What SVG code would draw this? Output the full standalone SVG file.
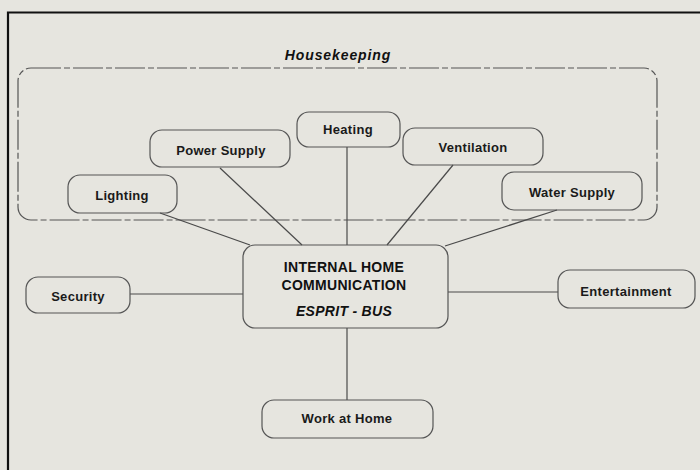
<svg xmlns="http://www.w3.org/2000/svg" width="700" height="470" viewBox="0 0 700 470">
  <style>
    .node rect { fill: none; stroke: #555; stroke-width: 1.2; }
    .node text { font-family: "Liberation Sans", Arial, sans-serif; font-size: 13px; font-weight: bold; letter-spacing: 0.3px; fill: #1a1a1a; text-anchor: middle; }
    .edges line { stroke: #4a4a4a; stroke-width: 1.2; }
    .hk-box { fill: none; stroke: #555; stroke-width: 1.2; stroke-dasharray: 30 3 6 3; }
    .title { font-family: "Liberation Sans", Arial, sans-serif; font-size: 14px; font-weight: bold; font-style: italic; letter-spacing: 0.9px; fill: #111; text-anchor: middle; }
    .hub text { font-size: 14px; letter-spacing: 0.3px; fill: #111; }
  </style>

  <!-- paper -->
  <rect x="0" y="0" width="700" height="470" fill="#e6e5df"/>
  <!-- outer frame -->
  <path d="M8 470 V12.5 H700" fill="none" stroke="#111" stroke-width="2.2"/>

  <!-- housekeeping group -->
  <g id="housekeeping">
    <rect class="hk-box" x="18" y="68" width="639" height="152" rx="13"/>
    <text class="title" x="338" y="60">Housekeeping</text>
  </g>

  <g class="edges" id="connectors">
    <line x1="160" y1="213" x2="250" y2="245"/>
    <line x1="220" y1="168" x2="302" y2="245"/>
    <line x1="347" y1="147" x2="347" y2="245"/>
    <line x1="453" y1="165" x2="387" y2="245"/>
    <line x1="557" y1="210" x2="445" y2="246"/>
    <line x1="130" y1="294" x2="243" y2="294"/>
    <line x1="448" y1="292" x2="558" y2="292"/>
    <line x1="347" y1="328" x2="347" y2="400"/>
  </g>

  <g class="node" id="lighting">
    <rect x="68" y="175" width="109" height="38" rx="12"/>
    <text x="122" y="200">Lighting</text>
  </g>
  <g class="node" id="power-supply">
    <rect x="150" y="130" width="140" height="37" rx="12"/>
    <text x="221" y="155">Power Supply</text>
  </g>
  <g class="node" id="heating">
    <rect x="297" y="112" width="103" height="35" rx="12"/>
    <text x="348" y="134">Heating</text>
  </g>
  <g class="node" id="ventilation">
    <rect x="403" y="128" width="140" height="37" rx="12"/>
    <text x="473" y="152">Ventilation</text>
  </g>
  <g class="node" id="water-supply">
    <rect x="502" y="172" width="140" height="38" rx="12"/>
    <text x="572" y="197">Water Supply</text>
  </g>

  <g class="node hub" id="internal-home-communication">
    <rect x="243" y="245" width="205" height="83" rx="12"/>
    <text x="344" y="272">INTERNAL  HOME</text>
    <text x="344" y="290">COMMUNICATION</text>
    <text x="344" y="316" font-style="italic">ESPRIT - BUS</text>
  </g>

  <g class="node" id="security">
    <rect x="26" y="277" width="104" height="36" rx="12"/>
    <text x="78" y="301">Security</text>
  </g>
  <g class="node" id="entertainment">
    <rect x="558" y="270" width="137" height="38" rx="12"/>
    <text x="626" y="296">Entertainment</text>
  </g>
  <g class="node" id="work-at-home">
    <rect x="262" y="400" width="171" height="38" rx="12"/>
    <text x="347" y="423">Work at Home</text>
  </g>
</svg>
